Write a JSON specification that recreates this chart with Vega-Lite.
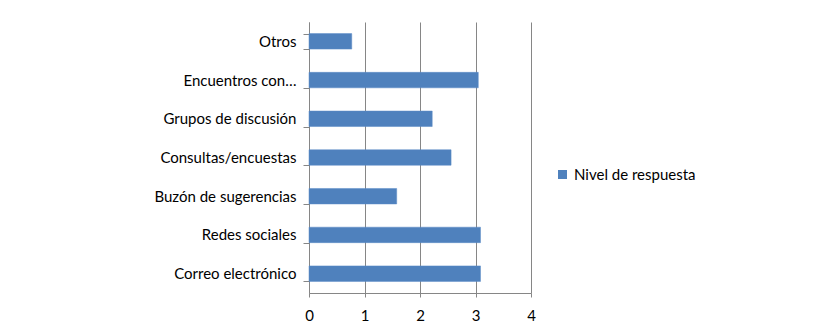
{
  "$schema": "https://vega.github.io/schema/vega-lite/v6.json",
  "width": 222,
  "height": 271,
  "autosize": {"type": "none"},
  "padding": {"left": 309, "top": 22, "right": 301, "bottom": 41},
  "background": "white",
  "data": {
    "values": [
      {"canal": "Otros", "valor": 0.77, "serie": "Nivel de respuesta"},
      {"canal": "Encuentros con…", "valor": 3.05, "serie": "Nivel de respuesta"},
      {"canal": "Grupos de discusión", "valor": 2.22, "serie": "Nivel de respuesta"},
      {"canal": "Consultas/encuestas", "valor": 2.56, "serie": "Nivel de respuesta"},
      {"canal": "Buzón de sugerencias", "valor": 1.58, "serie": "Nivel de respuesta"},
      {"canal": "Redes sociales", "valor": 3.09, "serie": "Nivel de respuesta"},
      {"canal": "Correo electrónico", "valor": 3.09, "serie": "Nivel de respuesta"}
    ]
  },
  "mark": {"type": "bar", "stroke": "#5a8ac6", "strokeWidth": 0.5},
  "encoding": {
    "y": {
      "field": "canal",
      "type": "nominal",
      "sort": null,
      "title": null,
      "scale": {"paddingInner": 0.6, "paddingOuter": 0.3},
      "axis": {
        "tickBand": "extent",
        "tickSize": 6,
        "labelPadding": 7,
        "labelFont": "Lato",
        "labelFontSize": 15,
        "labelColor": "#000000",
        "labelLimit": 200,
        "domainColor": "#868686",
        "tickColor": "#868686",
        "grid": false
      }
    },
    "x": {
      "field": "valor",
      "type": "quantitative",
      "title": null,
      "scale": {"domain": [0, 4], "nice": false},
      "axis": {
        "values": [0, 1, 2, 3, 4],
        "tickSize": 4,
        "labelPadding": 11,
        "labelFlush": false,
        "labelFont": "Lato",
        "labelFontSize": 15,
        "labelColor": "#000000",
        "domainColor": "#868686",
        "tickColor": "#868686",
        "grid": true,
        "gridColor": "#868686",
        "gridOpacity": 1
      }
    },
    "color": {
      "field": "serie",
      "type": "nominal",
      "scale": {"range": ["#4f81bd"]},
      "legend": {
        "title": null,
        "orient": "none",
        "legendX": 246,
        "legendY": 145,
        "symbolType": "square",
        "symbolSize": 81,
        "symbolStrokeWidth": 0,
        "labelFont": "Lato",
        "labelFontSize": 15,
        "labelColor": "#000000",
        "labelOffset": 4
      }
    }
  },
  "config": {
    "view": {"stroke": null}
  }
}
